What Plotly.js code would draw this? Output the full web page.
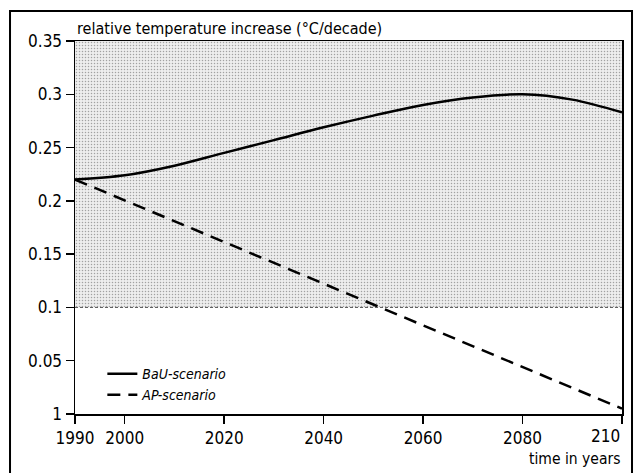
<!DOCTYPE html>
<html>
<head>
<meta charset="utf-8">
<script src="https://cdn.plot.ly/plotly-3.0.1.min.js"></script>
<style>
  html, body { margin: 0; padding: 0; background: #fff; }
  #chart { width: 637px; height: 473px; }
</style>
</head>
<body>
<div id="chart"></div>
<script>
// Years and temperature-increase rates (°C/decade)
const years = [1990, 2000, 2010, 2020, 2030, 2040, 2050, 2060, 2070, 2080, 2090, 2100];
const bauScenario = [0.220, 0.224, 0.233, 0.245, 0.257, 0.269, 0.280, 0.290, 0.297, 0.300, 0.295, 0.283];
const apYears = [1990, 2100];
const apScenario = [0.220, 0.005];

// Shaded band above the 0.1 °C/decade threshold
const bandYears = [1990, 2100];
const bandLow = [0.1, 0.1];
const bandHigh = [0.35, 0.35];

// Axis ticks
const xTickVals = [1990, 2000, 2020, 2040, 2060, 2080, 2100];
const xTickText = ['1990', '2000', '2020', '2040', '2060', '2080', ''];
const yTickVals = [0, 0.05, 0.1, 0.15, 0.2, 0.25, 0.3, 0.35];
const yTickText = ['1', '0.05', '0.1', '0.15', '0.2', '0.25', '0.3', '0.35'];

const FONT = '"Liberation Sans Narrow", "DejaVu Sans Condensed", "Arial Narrow", sans-serif';

const traces = [
  {
    x: bandYears, y: bandLow, mode: 'lines', line: {width: 0, color: 'rgba(0,0,0,0)'},
    showlegend: false, hoverinfo: 'skip'
  },
  {
    x: bandYears, y: bandHigh, mode: 'lines', line: {width: 0, color: 'rgba(0,0,0,0)'},
    fill: 'tonexty', fillcolor: '#e8e8e8',
    fillpattern: {shape: '.', bgcolor: '#eeeeee', fgcolor: '#a2a2a2', size: 3, solidity: 0.2},
    showlegend: false, hoverinfo: 'skip'
  },
  {
    x: years, y: bauScenario, name: 'BaU-scenario', mode: 'lines',
    line: {color: '#000', width: 2.5, shape: 'spline', smoothing: 1}
  },
  {
    x: apYears, y: apScenario, name: 'AP-scenario', mode: 'lines',
    line: {color: '#000', width: 2.5, dash: '13px,8px'}
  }
];

const layout = {
  width: 637, height: 473,
  margin: {l: 75, r: 15, t: 41, b: 59},
  paper_bgcolor: '#fff', plot_bgcolor: '#fff',
  font: {family: FONT, size: 16, color: '#000'},
  title: {
    text: 'relative temperature increase (°C/decade)',
    x: 77 / 637, xanchor: 'left', xref: 'container',
    y: 1 - 28 / 473, yanchor: 'middle', yref: 'container',
    font: {family: FONT, size: 16, color: '#000'}
  },
  showlegend: true,
  legend: {
    x: 0.05, y: 0.15, xanchor: 'left', yanchor: 'top',
    traceorder: 'normal',
    bgcolor: 'rgba(0,0,0,0)', borderwidth: 0,
    font: {family: FONT, size: 14, color: '#000', style: 'italic'},
    tracegroupgap: 0
  },
  xaxis: {
    range: [1990, 2100], tickmode: 'array', tickvals: xTickVals, ticktext: xTickText,
    ticks: 'outside', ticklen: 8, tickwidth: 1.5, tickcolor: '#000',
    showline: true, linecolor: '#000', linewidth: 1.5, mirror: true,
    showgrid: false, zeroline: false,
    tickfont: {family: FONT, size: 17, color: '#000'}
  },
  yaxis: {
    range: [0, 0.35], tickmode: 'array', tickvals: yTickVals, ticktext: yTickText,
    ticks: 'outside', ticklen: 8, tickwidth: 1.5, tickcolor: '#000',
    showline: true, linecolor: '#000', linewidth: 1.5, mirror: true,
    showgrid: false, zeroline: false,
    tickfont: {family: FONT, size: 17, color: '#000'}
  },
  shapes: [
    // dotted threshold line at 0.1
    {type: 'line', xref: 'x', yref: 'y', x0: bandYears[0], x1: bandYears[1], y0: bandLow[0], y1: bandLow[1],
     line: {color: '#555', width: 1, dash: '3px,2px'}},
    // outer frame
    {type: 'rect', xref: 'paper', yref: 'paper', x0: -0.1188, x1: 1.0183, y0: -0.2, y1: 1.0804,
     line: {color: '#000', width: 2}}
  ],
  annotations: [
    {text: '210', xref: 'x', yref: 'paper', x: 2100, xanchor: 'right', y: -0.059, yanchor: 'middle',
     showarrow: false, font: {family: FONT, size: 17, color: '#000'}},
    {text: 'time in years', xref: 'paper', yref: 'paper', x: 1, xanchor: 'right', y: -0.12, yanchor: 'middle',
     showarrow: false, font: {family: FONT, size: 15.5, color: '#000'}}
  ]
};

Plotly.newPlot('chart', traces, layout, {displayModeBar: false, staticPlot: true});
</script>
</body>
</html>
